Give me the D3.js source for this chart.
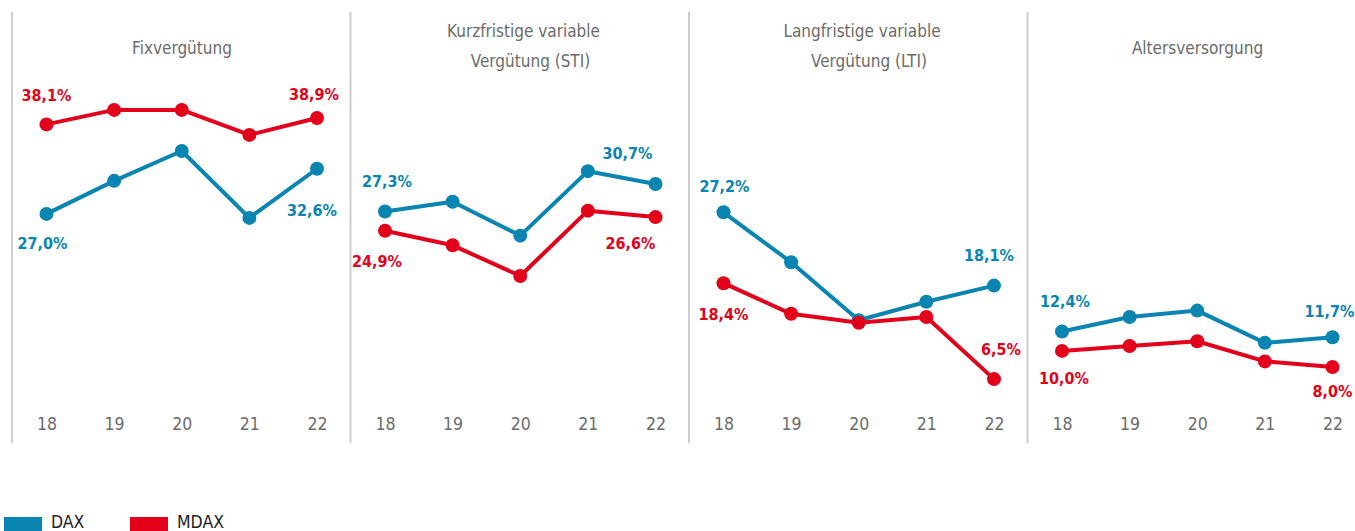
<!DOCTYPE html>
<html>
<head>
<meta charset="utf-8">
<title>Vergütungsbestandteile DAX / MDAX</title>
<script src="https://d3js.org/d3.v7.min.js"></script>
<style>
  body { margin: 0; background: #fff; }
  svg text { font-family: "DejaVu Sans Condensed", sans-serif; }
  .val { font-weight: bold; font-size: 16px; }
</style>
</head>
<body>
<div id="chart"></div>
<script>
// years on the x axis
var years = ["18", "19", "20", "21", "22"];

// panel titles (one entry per line)
var panelTitles = [
  ["Fixvergütung"],
  ["Kurzfristige variable", "Vergütung (STI)"],
  ["Langfristige variable", "Vergütung (LTI)"],
  ["Altersversorgung"]
];

// shares in percent
var daxFix = [27.0, 31.1, 34.8, 26.5, 32.6];
var mdaxFix = [38.1, 39.9, 39.9, 36.8, 38.9];
var daxSti = [27.3, 28.5, 24.3, 32.3, 30.7];
var mdaxSti = [24.9, 23.1, 19.3, 27.4, 26.6];
var daxLti = [27.2, 21.0, 13.8, 16.1, 18.1];
var mdaxLti = [18.4, 14.6, 13.5, 14.2, 6.5];
var daxAlt = [12.4, 14.2, 15.0, 11.0, 11.7];
var mdaxAlt = [10.0, 10.6, 11.2, 8.7, 8.0];

var seriesNames = ["DAX", "MDAX"];
var colors = { DAX: "#0a84b1", MDAX: "#e2001a" };

var panelData = [
  { DAX: daxFix, MDAX: mdaxFix },
  { DAX: daxSti, MDAX: mdaxSti },
  { DAX: daxLti, MDAX: mdaxLti },
  { DAX: daxAlt, MDAX: mdaxAlt }
];

// where the value labels go: [series, year index, dx, dy]
var labelPlacement = [
  [["MDAX", 0, 0, -23], ["MDAX", 4, -3, -18], ["DAX", 0, -4, 35], ["DAX", 4, -5, 47]],
  [["DAX", 0, 2, -24], ["DAX", 4, -28, -25], ["MDAX", 0, -8, 36], ["MDAX", 4, -25, 32]],
  [["DAX", 0, 1, -20], ["DAX", 4, -5, -25], ["MDAX", 0, 0, 37], ["MDAX", 4, 7, -24]],
  [["DAX", 0, 3, -25], ["DAX", 4, -3, -20], ["MDAX", 0, 2, 33], ["MDAX", 4, 0, 30]]
];

var W = 1355, H = 531;
var panelLeft = 12, panelStep = 338.5;

var svg = d3.select("#chart").append("svg")
  .attr("width", W)
  .attr("height", H);

// shared y scale for all panels
var y = d3.scaleLinear().domain([0, 40]).range([431.5, 109.1]);

var fmt = function(v) { return v.toFixed(1).replace(".", ",") + "%"; };

panelData.forEach(function(pd, i) {
  var px = panelLeft + i * panelStep;
  var g = svg.append("g");

  // left separator
  g.append("line")
    .attr("x1", px).attr("x2", px)
    .attr("y1", 12).attr("y2", 443)
    .attr("stroke", "#cdcdcd")
    .attr("stroke-width", 2);

  var x = d3.scalePoint().domain(years).range([px + 34.5, px + 305]);

  // title
  var lines = panelTitles[i];
  var t = g.append("text")
    .attr("text-anchor", "middle")
    .attr("fill", "#6b6b6b")
    .attr("font-size", "17px");
  if (lines.length == 1) {
    t.append("tspan").attr("x", px + 170).attr("y", 54).text(lines[0]);
  } else {
    t.append("tspan").attr("x", px + 173).attr("y", 37).text(lines[0]);
    t.append("tspan").attr("x", px + 180).attr("y", 67).text(lines[1]);
  }

  // x axis (labels only)
  var ax = g.append("g")
    .attr("transform", "translate(0,418)")
    .call(d3.axisBottom(x).tickSize(0).tickPadding(0));
  ax.select(".domain").remove();
  ax.selectAll("text")
    .attr("dy", "0.71em")
    .attr("font-size", "17.5px")
    .attr("fill", "#6b6b6b")
    .style("font-family", "DejaVu Sans Condensed, sans-serif");

  var line = d3.line()
    .x(function(d, j) { return x(years[j]); })
    .y(function(d) { return y(d); });

  seriesNames.forEach(function(s) {
    g.append("path")
      .datum(pd[s])
      .attr("d", line)
      .attr("fill", "none")
      .attr("stroke", colors[s])
      .attr("stroke-width", 4)
      .attr("stroke-linejoin", "round");

    g.selectAll("circle." + s)
      .data(pd[s])
      .enter()
      .append("circle")
      .attr("class", s)
      .attr("cx", function(d, j) { return x(years[j]); })
      .attr("cy", function(d) { return y(d); })
      .attr("r", 7)
      .attr("fill", colors[s]);
  });

  // value labels
  labelPlacement[i].forEach(function(p) {
    var v = pd[p[0]][p[1]];
    g.append("text")
      .attr("class", "val")
      .attr("text-anchor", "middle")
      .attr("x", x(years[p[1]]) + p[2])
      .attr("y", y(v) + p[3])
      .attr("fill", colors[p[0]])
      .text(fmt(v));
  });
});

// legend
var legend = svg.append("g");
var legX = [4, 130];
seriesNames.forEach(function(s, i) {
  legend.append("rect")
    .attr("x", legX[i]).attr("y", 517)
    .attr("width", 38).attr("height", 16)
    .attr("fill", colors[s]);
  legend.append("text")
    .attr("x", legX[i] + 47).attr("y", 528)
    .attr("font-size", "17.5px")
    .attr("fill", "#222")
    .text(s);
});
</script>
</body>
</html>
